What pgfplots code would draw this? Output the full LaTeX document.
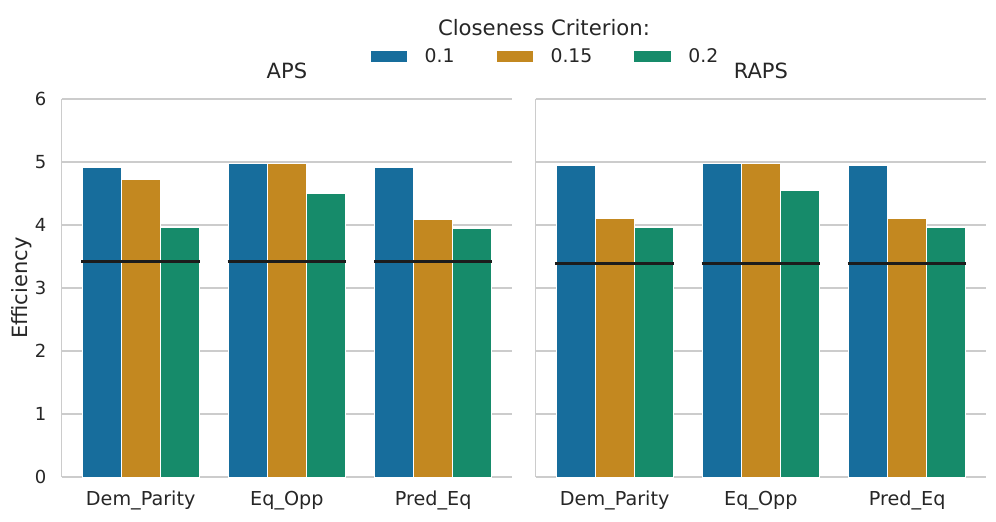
\documentclass[border=0pt]{standalone}
\usepackage{pgfplots}
\pgfplotsset{compat=1.18}
\usepackage{fontspec}
\setmainfont{DejaVu Sans}

\definecolor{cbBlue}{HTML}{176D9C}
\definecolor{cbOrange}{HTML}{C38820}
\definecolor{cbGreen}{HTML}{168B6A}
\definecolor{gridgray}{HTML}{CCCCCC}
\definecolor{textgray}{HTML}{262626}
\definecolor{refline}{HTML}{1C1C1C}

\pgfplotsset{
    panel/.style={
        scale only axis,
        width=225.2pt, height=189pt,
        xmin=-0.54, xmax=2.54,
        ymin=0, ymax=6,
        clip=false,
        axis x line*=bottom, axis y line*=left,
        axis line style={draw=gridgray, line width=0.65pt},
        ymajorgrids,
        grid style={draw=gridgray, line width=0.55pt},
        major tick length=0pt,
        xtick={0,1,2},
        xticklabels={Dem\_Parity, Eq\_Opp, Pred\_Eq},
        ytick={0,1,2,3,4,5,6},
        tick label style={text=textgray},
        xticklabel style={yshift=-3.6pt, font=\fontsize{9.6}{11.5}\selectfont},
        yticklabel style={xshift=-4.2pt, font=\fontsize{9}{10.8}\selectfont},
        /pgf/number format/assume math mode=true,
        title style={anchor=base, yshift=4.5pt, text=textgray, font=\fontsize{10.5}{12.6}\selectfont},
    },
    barA/.style={ybar, bar width=0.2667, bar shift=-0.2667, fill=cbBlue, draw=white, line width=0.5pt},
    barB/.style={ybar, bar width=0.2667, bar shift=0, fill=cbOrange, draw=white, line width=0.5pt},
    barC/.style={ybar, bar width=0.2667, bar shift=0.2667, fill=cbGreen, draw=white, line width=0.5pt},
    hline/.style={forget plot, draw=refline, line width=1.5pt},
}

\begin{document}
\begin{tikzpicture}[font=\fontsize{9.6}{11.5}\selectfont]
\useasboundingbox (-30.85pt,-22pt) rectangle (467.15pt,238.5pt);

% APS
\begin{axis}[panel, at={(0pt,0pt)}, anchor=south west,
    title={APS},
    ylabel={Efficiency},
    ylabel style={at={(axis description cs:-0.0888,0.5)}, anchor=center, text=textgray, font=\fontsize{10.5}{12.6}\selectfont},
    legend columns=3,
    legend style={at={(axis description cs:1.0708,1.1124)}, anchor=center,
        draw=none, fill=none,
        font=\fontsize{9.4}{11.2}\selectfont,
        nodes={inner sep=0pt, text=textgray},
        /tikz/every odd column/.append style={column sep=8.2pt},
        /tikz/every even column/.append style={column sep=20.5pt}},
    legend image code/.code={\fill[#1] (0pt,-3pt) rectangle (18.8pt,3pt);},
]
\addplot[barA] coordinates {(0,4.92) (1,4.97) (2,4.91)};
\addlegendentry{0.1}
\addplot[barB] coordinates {(0,4.73) (1,4.97) (2,4.09)};
\addlegendentry{0.15}
\addplot[barC] coordinates {(0,3.96) (1,4.50) (2,3.95)};
\addlegendentry{0.2}
\addplot[hline] coordinates {(-0.405,3.42) (0.405,3.42)};
\addplot[hline] coordinates {(0.595,3.42) (1.405,3.42)};
\addplot[hline] coordinates {(1.595,3.42) (2.405,3.42)};
\node[anchor=base, text=textgray, font=\fontsize{10.6}{12.7}\selectfont] at (axis description cs:1.0708,1.1693) {Closeness Criterion:};
\end{axis}

% RAPS
\begin{axis}[panel, at={(237pt,0pt)}, anchor=south west,
    title={RAPS},
    yticklabels={},
]
\addplot[barA] coordinates {(0,4.94) (1,4.98) (2,4.94)};
\addplot[barB] coordinates {(0,4.10) (1,4.98) (2,4.10)};
\addplot[barC] coordinates {(0,3.96) (1,4.55) (2,3.96)};
\addplot[hline] coordinates {(-0.405,3.39) (0.405,3.39)};
\addplot[hline] coordinates {(0.595,3.39) (1.405,3.39)};
\addplot[hline] coordinates {(1.595,3.39) (2.405,3.39)};
\end{axis}
\end{tikzpicture}
\end{document}
